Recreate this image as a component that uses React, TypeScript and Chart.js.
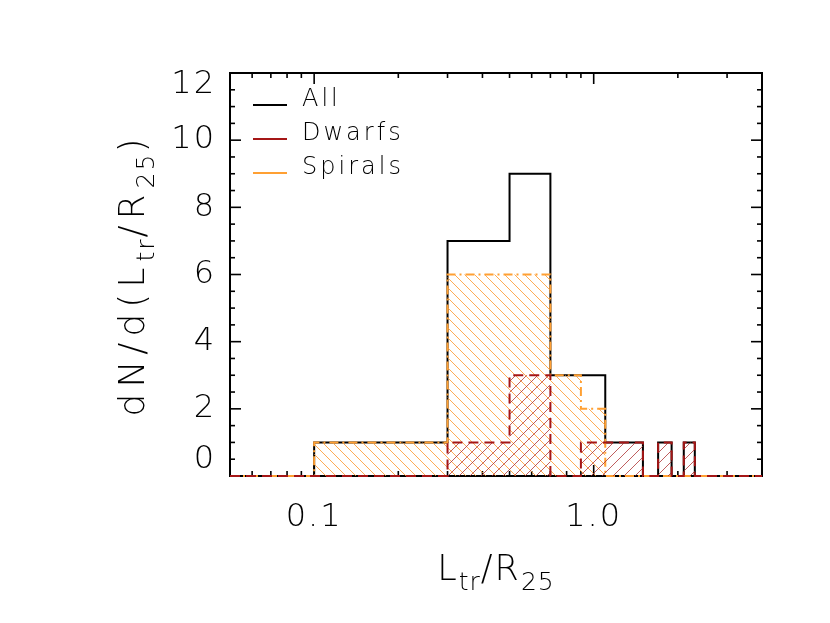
import React, { useEffect, useRef } from 'react';
import { Chart, registerables } from 'chart.js';

Chart.register(...registerables);

// ---------- data ----------
const binEdges = [0.1, 0.3, 0.5, 0.7, 0.9, 1.1, 1.3, 1.5, 1.7, 1.9, 2.1, 2.3];
const allCounts = [1, 7, 9, 3, 3, 1, 1, 0, 1, 0, 1];
const dwarfCounts = [0, 1, 3, 0, 1, 1, 1, 0, 1, 0, 1];
const spiralCounts = [1, 6, 6, 3, 2, 0, 0, 0, 0, 0, 0];
const seriesLabels = ['All', 'Dwarfs', 'Spirals'];
const xRange = [0.05, 4.0];
const yRange = [0, 12];
const yTickValues = [0, 2, 4, 6, 8, 10, 12];
const yMinorStep = 0.5;
const xTickValues = [0.1, 1.0];
const xTickLabels = ['0.1', '1.0'];
const xMinorTicks = [0.05, 0.06, 0.07, 0.08, 0.09, 0.2, 0.3, 0.4, 0.5, 0.6, 0.7, 0.8, 0.9, 2, 3, 4];
const xTitleParts: [string, boolean][] = [['L', false], ['tr', true], ['/', false], ['R', false], ['25', true]];
const yTitleParts: [string, boolean][] = [['dN/d(L', false], ['tr', true], ['/', false], ['R', false], ['25', true], [')', false]];

const BLACK = '#000000';
const RED = '#A51616';
const ORANGE = '#FFA033';
const FONT_FAMILY = '"DejaVu Sans", "Liberation Sans", sans-serif';

function stepPoints(counts: number[]) {
  const pts = [{ x: xRange[0], y: 0 }];
  counts.forEach((c, i) => pts.push({ x: binEdges[i], y: c }));
  pts.push({ x: binEdges[binEdges.length - 1], y: 0 });
  pts.push({ x: xRange[1], y: 0 });
  return pts;
}

function hatch(color: string, spacing: number, dir: 'back' | 'fwd', width: number) {
  const c = document.createElement('canvas');
  c.width = spacing;
  c.height = spacing;
  const g = c.getContext('2d')!;
  g.strokeStyle = color;
  g.lineWidth = width;
  for (let k = -1; k <= 1; k++) {
    g.beginPath();
    if (dir === 'back') {
      g.moveTo(k * spacing - 1, -1);
      g.lineTo(k * spacing + spacing + 1, spacing + 1);
    } else {
      g.moveTo(k * spacing - 1, spacing + 1);
      g.lineTo(k * spacing + spacing + 1, -1);
    }
    g.stroke();
  }
  return g.createPattern(c, 'repeat')!;
}

function drawRich(ctx: CanvasRenderingContext2D, parts: [string, boolean][], cx: number, baseY: number, mainSize: number, subSize: number, spacing: number, subSpacing: number) {
  const mainFont = `200 ${mainSize}px ${FONT_FAMILY}`;
  const subFont = `200 ${subSize}px ${FONT_FAMILY}`;
  let total = 0;
  const widths = parts.map(([t, sub]) => {
    ctx.font = sub ? subFont : mainFont;
    (ctx as any).letterSpacing = `${sub ? subSpacing : spacing}px`;
    const w = ctx.measureText(t).width;
    total += w;
    return w;
  });
  let x = cx - total / 2;
  ctx.textAlign = 'left';
  ctx.textBaseline = 'alphabetic';
  parts.forEach(([t, sub], i) => {
    ctx.font = sub ? subFont : mainFont;
    (ctx as any).letterSpacing = `${sub ? subSpacing : spacing}px`;
    ctx.fillText(t, x, sub ? baseY + mainSize * 0.28 : baseY);
    x += widths[i];
  });
}

const idlPlugin = {
  id: 'idlAxes',
  beforeDatasetsDraw(chart: any) {
    const { ctx, chartArea: a } = chart;
    const xs = chart.scales.x;
    const ys = chart.scales.y;
    ctx.save();
    ctx.strokeStyle = BLACK;
    const seg = (x1: number, y1: number, x2: number, y2: number) => {
      ctx.beginPath();
      ctx.moveTo(x1, y1);
      ctx.lineTo(x2, y2);
      ctx.stroke();
    };
    ctx.lineWidth = 1.6;
    for (let v = yRange[0]; v <= yRange[1] + 1e-9; v += yMinorStep) {
      const py = ys.getPixelForValue(v);
      const len = yTickValues.includes(v) ? 11 : 5;
      seg(a.left, py, a.left + len, py);
      seg(a.right, py, a.right - len, py);
    }
    const xt = [...xMinorTicks.map((v) => [v, 5]), ...xTickValues.map((v) => [v, 11])];
    xt.forEach(([v, len]) => {
      const px = xs.getPixelForValue(v);
      seg(px, a.bottom, px, a.bottom - len);
      seg(px, a.top, px, a.top + len);
    });
    ctx.lineWidth = 2;
    ctx.strokeRect(a.left, a.top, a.right - a.left, a.bottom - a.top);
    ctx.restore();
  },
  afterDraw(chart: any) {
    const { ctx, chartArea: a } = chart;
    const xs = chart.scales.x;
    const ys = chart.scales.y;
    ctx.save();
    ctx.fillStyle = BLACK;
    (ctx as any).letterSpacing = '2px';
    ctx.font = `200 32px ${FONT_FAMILY}`;
    // y tick labels
    ctx.textAlign = 'right';
    ctx.textBaseline = 'middle';
    yTickValues.forEach((v, i) => {
      let py = ys.getPixelForValue(v);
      if (i === 0) py -= 16;
      if (i === yTickValues.length - 1) py += 12;
      ctx.fillText(String(v), a.left - 14, py);
    });
    // x tick labels
    ctx.textAlign = 'center';
    ctx.textBaseline = 'middle';
    xTickValues.forEach((v, i) => {
      ctx.fillText(xTickLabels[i], xs.getPixelForValue(v), a.bottom + 42);
    });
    // x title
    drawRich(ctx, xTitleParts, (a.left + a.right) / 2, a.bottom + 104, 35, 25, 2, 1);
    // y title
    ctx.save();
    ctx.translate(a.left - 86, (a.top + a.bottom) / 2);
    ctx.rotate(-Math.PI / 2);
    drawRich(ctx, yTitleParts, 0, 0, 36, 25, 6, 2);
    ctx.restore();
    // legend
    const ds = chart.data.datasets;
    (ctx as any).letterSpacing = '3px';
    ctx.font = `200 24px ${FONT_FAMILY}`;
    ctx.textAlign = 'left';
    ctx.textBaseline = 'alphabetic';
    seriesLabels.forEach((lab, i) => {
      const d = ds.find((q: any) => q.label === lab);
      const yy = a.top + 32 + i * 34;
      ctx.strokeStyle = d.borderColor;
      ctx.lineWidth = 2;
      ctx.beginPath();
      ctx.moveTo(a.left + 23, yy);
      ctx.lineTo(a.left + 57, yy);
      ctx.stroke();
      ctx.fillStyle = BLACK;
      ctx.fillText(lab, a.left + 72, yy + 1);
    });
    ctx.restore();
  },
};

export default function App() {
  const ref = useRef<HTMLCanvasElement | null>(null);
  useEffect(() => {
    document.body.style.margin = '0';
    const canvas = ref.current!;
    const chart = new Chart(canvas, {
      type: 'line',
      data: {
        datasets: [
          {
            label: seriesLabels[0],
            data: stepPoints(allCounts),
            borderColor: BLACK,
            borderWidth: 2,
            stepped: true,
            fill: false,
            pointRadius: 0,
            order: 3,
            clip: false,
          } as any,
          {
            label: seriesLabels[1],
            data: stepPoints(dwarfCounts),
            borderColor: RED,
            borderWidth: 2,
            borderDash: [10, 6],
            stepped: true,
            fill: 'origin',
            backgroundColor: hatch('rgba(170,40,40,0.75)', 11, 'fwd', 1),
            pointRadius: 0,
            order: 1,
            clip: false,
          } as any,
          {
            label: seriesLabels[2],
            data: stepPoints(spiralCounts),
            borderColor: ORANGE,
            borderWidth: 2,
            borderDash: [9, 4, 2, 4],
            stepped: true,
            fill: 'origin',
            backgroundColor: hatch('rgba(255,150,40,0.8)', 10, 'back', 1),
            pointRadius: 0,
            order: 2,
            clip: false,
          } as any,
        ],
      },
      options: {
        animation: false,
        responsive: false,
        maintainAspectRatio: false,
        layout: { padding: { left: 230, top: 73, right: 68, bottom: 147 } },
        plugins: { legend: { display: false }, tooltip: { enabled: false } },
        scales: {
          x: { type: 'logarithmic', min: xRange[0], max: xRange[1], display: false },
          y: { type: 'linear', min: yRange[0], max: yRange[1], display: false },
        },
        elements: { point: { radius: 0 }, line: { tension: 0 } },
      },
      plugins: [idlPlugin],
    } as any);
    return () => chart.destroy();
  }, []);
  return <canvas ref={ref} width={830} height={623} style={{ display: 'block' }} />;
}
